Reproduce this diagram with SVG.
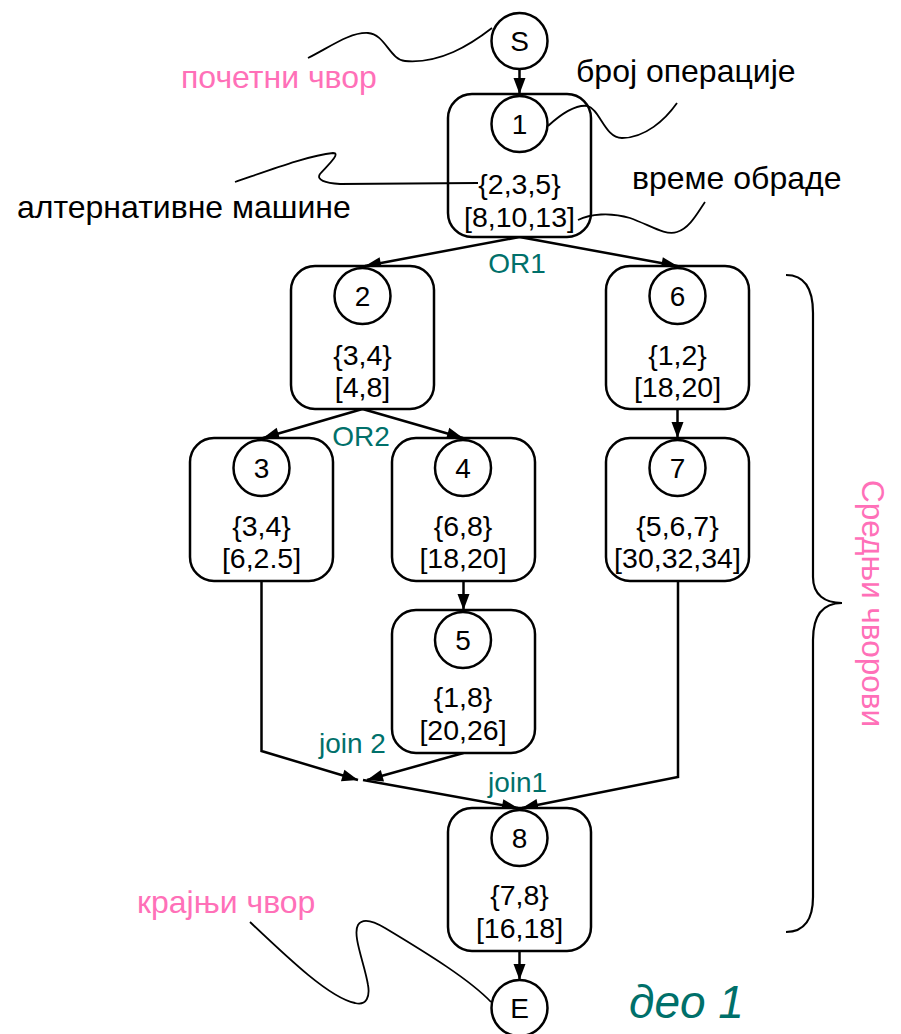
<svg xmlns="http://www.w3.org/2000/svg" width="901" height="1034" viewBox="0 0 901 1034">
<defs>
<marker id="arr" markerUnits="userSpaceOnUse" markerWidth="17" markerHeight="13" refX="16" refY="6" orient="auto" overflow="visible">
<path d="M0,0 L16,6 L0,12 z" fill="#000"/>
</marker>
<style>
.box{fill:#fff;stroke:#000;stroke-width:2.5}
.circ{fill:#fff;stroke:#000;stroke-width:2.5}
.edge{fill:none;stroke:#000;stroke-width:2.5;marker-end:url(#arr)}
.note{fill:none;stroke:#000;stroke-width:1.8}
.t{font-family:"Liberation Sans",Arial,sans-serif;font-size:28.5px;text-anchor:middle;fill:#000}
.c{font-family:"Liberation Sans",Arial,sans-serif;font-size:28px;text-anchor:middle;fill:#000}
.lbl{font-family:"Liberation Sans",Arial,sans-serif;font-size:32px}
.pink{fill:#ff70b8}
.black{fill:#000}
.teal{font-family:"Liberation Sans",Arial,sans-serif;font-size:28px;fill:#00706a}
</style>
</defs>
<rect width="901" height="1034" fill="#fff"/>

<g id="connectors">
<path class="edge" d="M519.5 69 L519.5 94"/>
<path class="edge" d="M519.5 237 L365 266"/>
<path class="edge" d="M519.5 237 L677.5 266"/>
<path class="edge" d="M362.5 409 L263 438"/>
<path class="edge" d="M362.5 409 L463 438"/>
<path class="edge" d="M677.5 409 L677.5 438"/>
<path class="edge" d="M463.5 581 L463.5 610"/>
<path class="edge" d="M261.5 581 L261.5 751 L358 780"/>
<path class="edge" d="M463.5 753 L367 780"/>
<path class="edge" d="M363 780 L518 808"/>
<path class="edge" d="M678 581 L678 777 L522 808"/>
<path class="edge" d="M519.5 951 L519.5 980"/>
<text class="teal" x="517" y="273" text-anchor="middle">OR1</text>
<text class="teal" x="361" y="446" text-anchor="middle">OR2</text>
<text class="teal" x="319" y="753">join 2</text>
<text class="teal" x="488" y="792">join1</text>
</g>

<g id="node-S">
<circle class="circ" cx="519.5" cy="41" r="28"/>
<text class="c" x="519.5" y="51">S</text>
</g>

<g id="node-1">
<rect class="box" x="448" y="94" width="143" height="143" rx="24"/>
<circle class="circ" cx="519.5" cy="124" r="28"/>
<text class="c" x="519.5" y="134">1</text>
<text class="t" x="519.5" y="194">{2,3,5}</text>
<text class="t" x="519.5" y="227">[8,10,13]</text>
</g>

<g id="node-2">
<rect class="box" x="291" y="266" width="143" height="143" rx="24"/>
<circle class="circ" cx="362.5" cy="296" r="28"/>
<text class="c" x="362.5" y="306">2</text>
<text class="t" x="362.5" y="365">{3,4}</text>
<text class="t" x="362.5" y="397">[4,8]</text>
</g>

<g id="node-6">
<rect class="box" x="606" y="266" width="143" height="143" rx="24"/>
<circle class="circ" cx="677.5" cy="296" r="28"/>
<text class="c" x="677.5" y="306">6</text>
<text class="t" x="677.5" y="365">{1,2}</text>
<text class="t" x="677.5" y="397">[18,20]</text>
</g>

<g id="node-3">
<rect class="box" x="190" y="438" width="143" height="143" rx="24"/>
<circle class="circ" cx="261.5" cy="468" r="28"/>
<text class="c" x="261.5" y="478">3</text>
<text class="t" x="261.5" y="536">{3,4}</text>
<text class="t" x="261.5" y="568">[6,2.5]</text>
</g>

<g id="node-4">
<rect class="box" x="392" y="438" width="143" height="143" rx="24"/>
<circle class="circ" cx="463" cy="468" r="28"/>
<text class="c" x="463" y="478">4</text>
<text class="t" x="463" y="536">{6,8}</text>
<text class="t" x="463" y="568">[18,20]</text>
</g>

<g id="node-7">
<rect class="box" x="606" y="438" width="143" height="143" rx="24"/>
<circle class="circ" cx="677.5" cy="468" r="28"/>
<text class="c" x="677.5" y="478">7</text>
<text class="t" x="677.5" y="536">{5,6,7}</text>
<text class="t" x="677.5" y="568">[30,32,34]</text>
</g>

<g id="node-5">
<rect class="box" x="392" y="610" width="143" height="143" rx="24"/>
<circle class="circ" cx="463" cy="640" r="28"/>
<text class="c" x="463" y="650">5</text>
<text class="t" x="463" y="707">{1,8}</text>
<text class="t" x="463" y="740">[20,26]</text>
</g>

<g id="node-8">
<rect class="box" x="448" y="808" width="143" height="143" rx="24"/>
<circle class="circ" cx="519.5" cy="838" r="28"/>
<text class="c" x="519.5" y="848">8</text>
<text class="t" x="519.5" y="905">{7,8}</text>
<text class="t" x="519.5" y="938">[16,18]</text>
</g>

<g id="node-E">
<circle class="circ" cx="519.5" cy="1008" r="28"/>
<text class="c" x="519.5" y="1018">E</text>
</g>

<g id="annotations">
<path class="note" d="M308 58 C330 47 350 32 368 33 C385 34 390 60 405 61 C440 64 470 45 492 28"/>
<path class="note" d="M548 126 C560 115 575 104 588 106 C600 110 605 138 622 138 C645 138 665 120 677 103"/>
<path class="note" d="M578 220 C590 214 610 212 630 218 C650 225 665 236 677 232 C690 228 698 212 705 202"/>
<path class="note" d="M235 182 C270 170 310 155 333 153 C342 153 325 168 320 174 C316 180 325 183 340 184 L478 183"/>
<path class="note" d="M250 922 C290 960 330 998 355 1003 C367 1006 370 996 368 985 C365 965 352 935 358 925 C363 917 375 922 385 928 C430 955 470 980 491 1002"/>
<path class="note" style="stroke-width:2.2" d="M786 275 C805 275 813 290 813 313 L813 577 C813 595 825 603 842 603 C825 603 813 612 813 640 L813 897 C813 918 805 932 786 932"/>
<text class="lbl pink" x="181" y="88">почетни чвор</text>
<text class="lbl black" x="576" y="82">број операције</text>
<text class="lbl black" x="632" y="189">време обраде</text>
<text class="lbl black" x="17" y="218">алтернативне машине</text>
<text class="lbl pink" x="137" y="913">крајњи чвор</text>
<text class="lbl pink" transform="translate(862,603.5) rotate(90)" text-anchor="middle" style="font-size:31.5px">Средњи чворови</text>
<text x="629" y="1018" style="font-family:'Liberation Sans',Arial,sans-serif;font-size:46px;font-style:italic;fill:#00706a">део 1</text>
</g>
</svg>
